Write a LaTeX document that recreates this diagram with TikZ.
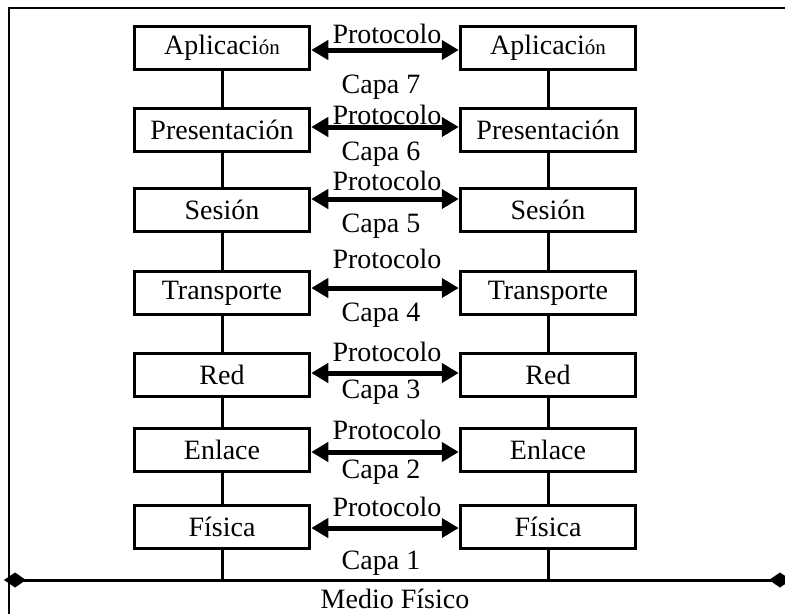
\documentclass[tikz,border=0pt]{standalone}
\usepackage{fontspec}
\setmainfont{Liberation Serif}
\usetikzlibrary{arrows.meta}
\tikzset{
  capa/.style={draw, line width=3.5pt, minimum width=175pt, minimum height=43pt, inner sep=0pt, font=\fontsize{28}{30}\selectfont},
  proto/.style={line width=5pt, {Triangle[length=17pt,width=19pt]}-{Triangle[length=17pt,width=19pt]}},
  rotulo/.style={font=\fontsize{28}{30}\selectfont, inner sep=0pt},
  enlace/.style={line width=3pt}
}

\begin{document}
\begin{tikzpicture}[x=1pt,y=-1pt]
\useasboundingbox (0,0) rectangle (785,614);
% marco
\draw[line width=2.5pt] (9,614) -- (9,8) -- (785,8);
% capas
\foreach \n/\nombre/\yc/\ya/\yp/\yq in {
  7/{Aplicaci{\fontsize{21}{21}\selectfont ón}}/48/50/34/87,
  6/Presentación/130/127/115/154,
  5/Sesión/210/199/181/226,
  4/Transporte/293/288/259/315,
  3/Red/375/373/352/392,
  2/Enlace/450/452/430/472,
  1/Física/527/528/507/563}
{
  \node[capa] (L\n) at (222,\yc) {\nombre};
  \node[capa] (R\n) at (548,\yc) {\nombre};
  \coordinate (a\n) at (0,\ya);
  \draw[proto] (L\n.east |- a\n) -- (R\n.west |- a\n);
  \node[rotulo] (p\n) at (387,\yp) {Protocolo};
  \node[rotulo] (c\n) at (381,\yq) {Capa \n};
}
\foreach \i/\j in {7/6,6/5,5/4,4/3,3/2,2/1}
{
  \draw[enlace] (L\i) -- (L\j);
  \draw[enlace] (R\i) -- (R\j);
}
% medio
\coordinate (mI) at (4,580);
\coordinate (mD) at (791,580);
\draw[enlace, {Diamond[length=22pt,width=15pt]}-{Diamond[length=22pt,width=15pt]}] (mI) -- (mD);
\draw[enlace] (L1) -- (L1 |- mI);
\draw[enlace] (R1) -- (R1 |- mI);
\node[rotulo] (medio) at (395,599) {Medio Físico};
\end{tikzpicture}
\end{document}
